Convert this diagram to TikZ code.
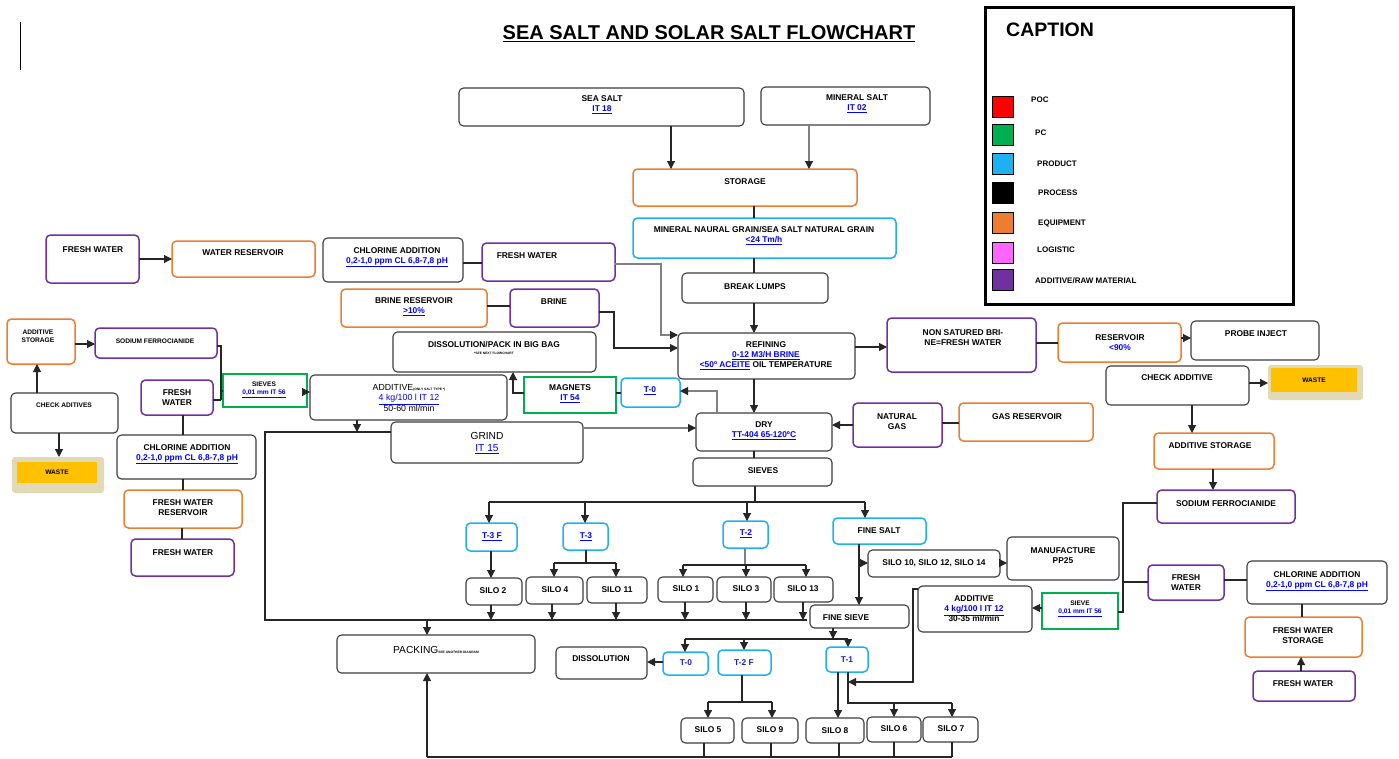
\documentclass[tikz,border=0pt]{standalone}
\usepackage{fontspec}
\setmainfont{Liberation Sans}
\usetikzlibrary{arrows.meta}
\definecolor{cpurple}{HTML}{7030A0}
\definecolor{corange}{HTML}{ED7D31}
\definecolor{cblue}{HTML}{1EB1F0}
\definecolor{cgreen}{HTML}{00B050}
\definecolor{cred}{HTML}{FF0000}
\definecolor{cpink}{HTML}{FF66FF}
\definecolor{lblue}{HTML}{0000FF}
\definecolor{dblue}{HTML}{2020C0}
\definecolor{boxgray}{HTML}{3C3C3C}
\definecolor{wyellow}{HTML}{FFC000}
\definecolor{wshadow}{HTML}{E2D9B6}
\newcommand\fA{\fontsize{8.4}{10}\selectfont\bfseries}
\newcommand\fS{\fontsize{6.6}{8}\selectfont\bfseries}
\newcommand\fR{\fontsize{8.8}{10.5}\selectfont}
\newcommand\fG{\fontsize{10.2}{12}\selectfont}
\newcommand\fT{\fontsize{3.3}{4}\selectfont\bfseries}
\newcommand\lk[1]{\textcolor{lblue}{\underline{#1}}}
\newcommand\bx[6]{\node[#2,minimum width={(#5)-(#3)},minimum height={(#6)-(#4)}] (#1) at ({((#3)+(#5))/2},{((#4)+(#6))/2}) {};}
\tikzset{
  bxk/.style={draw=boxgray,line width=1.1pt,rounded corners=4.5pt,inner sep=0pt,outer sep=0pt},
  bxp/.style={bxk,draw=cpurple,line width=1.5pt},
  bxo/.style={bxk,draw=corange,line width=1.5pt},
  bxb/.style={bxk,draw=cblue,line width=1.5pt},
  bxg/.style={draw=cgreen,line width=2pt,inner sep=0pt,outer sep=0pt},
  wsh/.style={fill=wshadow,rounded corners=3pt,inner sep=0pt,outer sep=0pt},
  wys/.style={fill=wyellow,inner sep=0pt,outer sep=0pt},
  tx/.style={inner sep=0pt,align=center,font=\fA},
  lg/.style={draw=black,line width=1pt,inner sep=0pt,minimum size=21pt},
  con/.style={draw=black!85,line width=1.1pt},
  gcon/.style={draw=black!50,line width=1.1pt},
  arr/.style={con,-{Triangle[length=8pt,width=8pt]}},
  garr/.style={gcon,-{Triangle[length=8pt,width=8pt,color=black!85]}}
}
\begin{document}
\begin{tikzpicture}[x=1pt,y=-1pt]
\useasboundingbox (0,0) rectangle (1399,758);
\fill[white] (0,0) rectangle (1399,758);
\draw[line width=1pt] (20,22) -- (20,70);
\node[tx,font=\fontsize{20}{24}\selectfont\bfseries] (title) at (709,34) {\underline{SEA SALT AND SOLAR SALT FLOWCHART}};

% ---------- caption ----------
\node[draw=black,line width=3pt,minimum width=308,minimum height=297,inner sep=0] (capbox) at (1139,155.5) {};
\node[tx,font=\fontsize{19.5}{24}\selectfont\bfseries,anchor=west] (captitle) at (1006,30) {CAPTION};
\node[lg,fill=cred] (lg1) at (1002.5,106.5) {};
\node[lg,fill=cgreen] (lg2) at (1002.5,134.5) {};
\node[lg,fill=cblue] (lg3) at (1002.5,163.5) {};
\node[lg,fill=black] (lg4) at (1002.5,193) {};
\node[lg,fill=corange] (lg5) at (1002.5,223) {};
\node[lg,fill=cpink] (lg6) at (1002.5,253) {};
\node[lg,fill=cpurple] (lg7) at (1002.5,280) {};
\node[tx,anchor=west,font=\fontsize{8}{9}\selectfont\bfseries] (lg1t) at (1031,100) {POC};
\node[tx,anchor=west,font=\fontsize{8}{9}\selectfont\bfseries] (lg2t) at (1035,133) {PC};
\node[tx,anchor=west,font=\fontsize{8}{9}\selectfont\bfseries] (lg3t) at (1037,164) {PRODUCT};
\node[tx,anchor=west,font=\fontsize{8}{9}\selectfont\bfseries] (lg4t) at (1038,193) {PROCESS};
\node[tx,anchor=west,font=\fontsize{8}{9}\selectfont\bfseries] (lg5t) at (1038,223) {EQUIPMENT};
\node[tx,anchor=west,font=\fontsize{8}{9}\selectfont\bfseries] (lg6t) at (1037,250) {LOGISTIC};
\node[tx,anchor=west,font=\fontsize{8}{9}\selectfont\bfseries] (lg7t) at (1035,281) {ADDITIVE/RAW MATERIAL};

% ---------- central column ----------
\bx{seasalt}{bxk}{459}{88}{744}{126}
\node[tx] (seasalt-t) at (602,105) {SEA SALT\\\lk{IT 18}};
\bx{minsalt}{bxk}{761}{87}{930}{125}
\node[tx] (minsalt-t) at (857,104) {MINERAL SALT\\\lk{IT 02}};
\bx{storage}{bxo}{633}{169}{857}{206}
\node[tx] (storage-t) at (745,182) {STORAGE};
\bx{mngrain}{bxb}{633}{218}{896}{258}
\node[tx] (mngrain-t) at (764,236) {MINERAL NAURAL GRAIN/SEA SALT NATURAL GRAIN\\\lk{<24 Tm/h}};
\bx{breaklumps}{bxk}{682}{273}{828}{303}
\node[tx] (breaklumps-t) at (755,287) {BREAK LUMPS};
\bx{refining}{bxk}{678}{333}{855}{379}
\node[tx] (refining-t) at (766,356) {REFINING\\\lk{0-12 M3/H BRINE}\\\lk{<50º ACEITE} OIL TEMPERATURE};
\bx{dry}{bxk}{696}{413}{832}{451}
\node[tx] (dry-t) at (764,431) {DRY\\\lk{TT-404 65-120ºC}};
\bx{sieves}{bxk}{693}{458}{832}{486}
\node[tx] (sieves-t) at (763,471) {SIEVES};

% ---------- right part ----------
\bx{nonsat}{bxp}{887}{318}{1036}{372}
\node[tx] (nonsat-t) at (963,338) {NON SATURED BRI-\\NE=FRESH WATER};
\bx{reservoir}{bxo}{1058}{323}{1181}{362}
\node[tx] (reservoir-t) at (1120,343) {RESERVOIR\\\textcolor{lblue}{<90\%}};
\bx{probe}{bxk}{1191}{321}{1319}{360}
\node[tx] (probe-t) at (1256,334) {PROBE INJECT};
\bx{checkadd}{bxk}{1106}{366}{1249}{405}
\node[tx] (checkadd-t) at (1177,378) {CHECK ADDITIVE};
\bx{wasteRs}{wsh}{1268}{365}{1363}{400}
\bx{wasteR}{wys}{1271}{368}{1357}{392}
\node[tx,font=\fS] (wasteR-t) at (1314,380) {WASTE};
\bx{addstorR}{bxo}{1154}{433}{1274}{469}
\node[tx] (addstorR-t) at (1210,446) {ADDITIVE STORAGE};
\bx{sodiumR}{bxp}{1157}{490}{1295}{523}
\node[tx] (sodiumR-t) at (1226,504) {SODIUM FERROCIANIDE};
\bx{fwR}{bxp}{1148}{565}{1224}{600}
\node[tx] (fwR-t) at (1186,583) {FRESH\\WATER};
\bx{chlR}{bxk}{1247}{561}{1387}{604}
\node[tx] (chlR-t) at (1317,581) {CHLORINE ADDITION\\\lk{0,2-1,0 ppm CL 6,8-7,8 pH}};
\bx{fwsR}{bxo}{1245}{617}{1362}{657}
\node[tx] (fwsR-t) at (1303,636) {FRESH WATER\\STORAGE};
\bx{fwbR}{bxp}{1253}{671}{1355}{701}
\node[tx] (fwbR-t) at (1303,684) {FRESH WATER};
\bx{sieveR}{bxg}{1042}{593}{1118}{629}
\node[tx,font=\fS] (sieveR-t) at (1080,609) {SIEVE\\\lk{0,01 mm IT 56}};
\bx{addR}{bxk}{918}{586}{1032}{632}
\node[tx] (addR-t) at (974,609) {ADDITIVE\\\lk{4 kg/100 l IT 12}\\30-35 ml/min};
\bx{manuf}{bxk}{1007}{537}{1119}{580}
\node[tx] (manuf-t) at (1063,556) {MANUFACTURE\\PP25};
\bx{silo10}{bxk}{868}{550}{1000}{577}
\node[tx] (silo10-t) at (934,563) {SILO 10, SILO 12, SILO 14};
\bx{finesalt}{bxb}{833}{518}{926}{544}
\node[tx] (finesalt-t) at (879,531) {FINE SALT};
\bx{natgas}{bxp}{853}{403}{942}{447}
\node[tx] (natgas-t) at (897,422) {NATURAL\\GAS};
\bx{gasres}{bxo}{959}{403}{1093}{441}
\node[tx] (gasres-t) at (1027,417) {GAS RESERVOIR};

% ---------- left part ----------
\bx{fwTL}{bxp}{46}{235}{139}{283}
\node[tx] (fwTL-t) at (93,250) {FRESH WATER};
\bx{wres}{bxo}{172}{241}{315}{277}
\node[tx] (wres-t) at (243,253) {WATER RESERVOIR};
\bx{chlM}{bxk}{323}{238}{463}{282}
\node[tx] (chlM-t) at (397,257) {CHLORINE ADDITION\\\lk{0,2-1,0 ppm CL 6,8-7,8 pH}};
\bx{fwM}{bxp}{482}{243}{615}{281}
\node[tx] (fwM-t) at (527,256) {FRESH WATER};
\bx{brres}{bxo}{341}{289}{487}{327}
\node[tx] (brres-t) at (414,307) {BRINE RESERVOIR\\\lk{>10\%}};
\bx{brine}{bxp}{510}{289}{599}{327}
\node[tx] (brine-t) at (554,302) {BRINE};
\bx{dissolpack}{bxk}{393}{332}{596}{372}
\node[tx] (dissolpack-t) at (494,348) {DISSOLUTION/PACK IN BIG BAG\\[-3pt]{\fT *SEE NEXT FLOWCHART}};
\bx{magnets}{bxg}{524}{377}{616}{413}
\node[tx] (magnets-t) at (570,394) {MAGNETS\\\lk{IT 54}};
\bx{t0top}{bxb}{621}{378}{680}{407}
\node[tx] (t0top-t) at (650,391) {\lk{T-0}};
\bx{addL}{bxk}{310}{375}{507}{420}
\node[tx,font=\fR] (addL-t) at (409,398) {ADDITIVE{\fT(ONLY SALT TYPE *)}\\\lk{4 kg/100 l IT 12}\\50-60 ml/min};
\bx{grind}{bxk}{391}{422}{583}{463}
\node[tx,font=\fG] (grind-t) at (487,443) {GRIND\\\lk{IT 15}};
\bx{sievesL}{bxg}{223}{374}{307}{407}
\node[tx,font=\fS] (sievesL-t) at (264,390) {SIEVES\\\lk{0,01 mm IT 56}};
\bx{sodiumL}{bxp}{95}{328}{217}{358}
\node[tx,font=\fS] (sodiumL-t) at (155,341) {SODIUM FERROCIANIDE};
\bx{addstorL}{bxo}{7}{319}{75}{364}
\node[tx,font=\fS] (addstorL-t) at (38,336) {ADDITIVE\\STORAGE};
\bx{checkL}{bxk}{11}{393}{118}{433}
\node[tx,font=\fS] (checkL-t) at (64,405) {CHECK ADITIVES};
\bx{wasteLs}{wsh}{12}{457}{104}{493}
\bx{wasteL}{wys}{17}{462}{97}{483}
\node[tx,font=\fS] (wasteL-t) at (57,472) {WASTE};
\bx{fwL}{bxp}{141}{380}{213}{415}
\node[tx] (fwL-t) at (177,398) {FRESH\\WATER};
\bx{chlL}{bxk}{117}{435}{256}{479}
\node[tx] (chlL-t) at (187,454) {CHLORINE ADDITION\\\lk{0,2-1,0 ppm CL 6,8-7,8 pH}};
\bx{fwresL}{bxo}{124}{490}{242}{528}
\node[tx] (fwresL-t) at (183,508) {FRESH WATER\\RESERVOIR};
\bx{fwbL}{bxp}{131}{539}{234}{576}
\node[tx] (fwbL-t) at (183,553) {FRESH WATER};

% ---------- bottom ----------
\bx{t3f}{bxb}{466}{523}{517}{551}
\node[tx] (t3f-t) at (492,537) {\lk{T-3 F}};
\bx{t3}{bxb}{563}{523}{608}{550}
\node[tx] (t3-t) at (586,537) {\lk{T-3}};
\bx{t2}{bxb}{723}{521}{768}{548}
\node[tx] (t2-t) at (746,534) {\lk{T-2}};
\bx{silo2}{bxk}{466}{578}{522}{605}
\node[tx] (silo2-t) at (493,591) {SILO 2};
\bx{silo4}{bxk}{526}{577}{583}{604}
\node[tx] (silo4-t) at (555,590) {SILO 4};
\bx{silo11}{bxk}{587}{577}{647}{603}
\node[tx] (silo11-t) at (617,590) {SILO 11};
\bx{silo1}{bxk}{658}{577}{713}{602}
\node[tx] (silo1-t) at (686,589) {SILO 1};
\bx{silo3}{bxk}{717}{577}{771}{602}
\node[tx] (silo3-t) at (746,589) {SILO 3};
\bx{silo13}{bxk}{774}{577}{833}{602}
\node[tx] (silo13-t) at (803,589) {SILO 13};
\bx{finesieve}{bxk}{810}{605}{909}{628}
\node[tx] (finesieve-t) at (846,618) {FINE SIEVE};
\bx{packing}{bxk}{337}{635}{535}{673}
\node[tx,font=\fG] (packing-t) at (436,650) {PACKING{\fT SEE ANOTHER DIAGRAM}};
\bx{dissol}{bxk}{556}{647}{647}{679}
\node[tx] (dissol-t) at (601,659) {DISSOLUTION};
\bx{t0b}{bxb}{663}{652}{708}{675}
\node[tx] (t0b-t) at (686,663) {\textcolor{dblue}{T-0}};
\bx{t2f}{bxb}{718}{650}{771}{675}
\node[tx] (t2f-t) at (744,663) {\textcolor{dblue}{T-2 F}};
\bx{t1}{bxb}{826}{647}{868}{672}
\node[tx] (t1-t) at (847,660) {\textcolor{dblue}{T-1}};
\bx{silo5}{bxk}{681}{718}{734}{743}
\node[tx] (silo5-t) at (708,730) {SILO 5};
\bx{silo9}{bxk}{742}{718}{798}{743}
\node[tx] (silo9-t) at (770,730) {SILO 9};
\bx{silo8}{bxk}{806}{718}{864}{743}
\node[tx] (silo8-t) at (835,731) {SILO 8};
\bx{silo6}{bxk}{867}{717}{921}{742}
\node[tx] (silo6-t) at (894,729) {SILO 6};
\bx{silo7}{bxk}{923}{717}{978}{742}
\node[tx] (silo7-t) at (951,729) {SILO 7};

% ---------- connectors: central ----------
\draw[arr] (671,0 |- seasalt.south) -- (671,0 |- storage.north);
\draw[garr] (809,0 |- minsalt.south) -- (809,0 |- storage.north);
\draw[con] (754,0 |- storage.south) -- (754,0 |- mngrain.north);
\draw[con] (754,0 |- mngrain.south) -- (754,0 |- breaklumps.north);
\draw[arr] (754,0 |- breaklumps.south) -- (754,0 |- refining.north);
\draw[arr] (754,0 |- refining.south) -- (754,0 |- dry.north);
\draw[con] (754,0 |- dry.south) -- (754,0 |- sieves.north);
\draw[garr] (fwM.east |- 0,264) -- (661,264) -- (661,335) -- (refining.west |- 0,335);
\draw[arr] (brine.east |- 0,312) -- (614,312) -- (614,348) -- (refining.west |- 0,348);
\draw[con] (chlM.east |- 0,263) -- (fwM.west |- 0,263);
\draw[con] (brres.east |- 0,306) -- (brine.west |- 0,306);
\draw[arr] (refining.east |- 0,347) -- (nonsat.west |- 0,347);
\draw[con] (nonsat.east |- 0,343) -- (reservoir.west |- 0,343);
\draw[arr] (reservoir.east |- 0,338) -- (probe.west |- 0,338);
\draw[arr] (checkadd.east |- 0,383) -- (wasteRs.west |- 0,383);
\draw[arr] (1192,0 |- checkadd.south) -- (1192,0 |- addstorR.north);
\draw[arr] (1213,0 |- addstorR.south) -- (1213,0 |- sodiumR.north);
\draw[con] (sodiumR.west |- 0,503) -- (1123,503) -- (1123,612) -- (sieveR.east |- 0,612);
\draw[con] (fwR.west |- 0,582) -- (1123,582);
\draw[con] (fwR.east |- 0,580) -- (chlR.west |- 0,580);
\draw[con] (1302,0 |- chlR.south) -- (1302,0 |- fwsR.north);
\draw[arr] (1301,0 |- fwbR.north) -- (1301,0 |- fwsR.south);
\draw[arr] (sieveR.west |- 0,608) -- (addR.east |- 0,608);
\draw[arr] (addR.west |- 0,589) -- (913,589) -- (913,682) -- (848,682);
\draw[arr] (natgas.west |- 0,425) -- (dry.east |- 0,425);
\draw[con] (natgas.east |- 0,423) -- (gasres.west |- 0,423);
\draw[garr] (717,0 |- dry.north) -- (717,391) -- (t0top.east |- 0,391);
\draw[con] (magnets.east |- 0,393) -- (t0top.west |- 0,393);
\draw[arr] (magnets.west |- 0,393) -- (513,393) -- (513,0 |- dissolpack.south);

% ---------- connectors: left ----------
\draw[arr] (fwTL.east |- 0,259) -- (wres.west |- 0,259);
\draw[arr] (addstorL.east |- 0,344) -- (sodiumL.west |- 0,344);
\draw[arr] (37,0 |- checkL.north) -- (37,0 |- addstorL.south);
\draw[arr] (59,0 |- checkL.south) -- (59,0 |- wasteLs.north);
\draw[con] (sodiumL.east |- 0,346) -- (221,346) -- (221,400);
\draw[con] (fwL.east |- 0,400) -- (221,400);
\draw[con] (221,391) -- (sievesL.west |- 0,391);
\draw[arr] (sievesL.east |- 0,392) -- (addL.west |- 0,392);
\draw[con] (183,0 |- fwL.south) -- (183,0 |- chlL.north);
\draw[con] (183,0 |- chlL.south) -- (183,0 |- fwresL.north);
\draw[con] (182,0 |- fwresL.south) -- (182,0 |- fwbL.north);
\draw[arr] (357,0 |- addL.south) -- (357,432);
\draw[con] (grind.west |- 0,432) -- (265,432) -- (265,620) -- (807,620);
\draw[garr] (grind.east |- 0,428) -- (dry.west |- 0,428);

% ---------- connectors: sieves tree ----------
\draw[con] (755,0 |- sieves.south) -- (755,502);
\draw[con] (489,502) -- (865,502);
\draw[arr] (489,502) -- (489,0 |- t3f.north);
\draw[arr] (585,502) -- (585,0 |- t3.north);
\draw[arr] (747,502) -- (747,0 |- t2.north);
\draw[arr] (865,502) -- (865,0 |- finesalt.north);
\draw[arr] (491,0 |- t3f.south) -- (491,0 |- silo2.north);
\draw[con] (586,0 |- t3.south) -- (586,563);
\draw[con] (554,563) -- (616,563);
\draw[arr] (554,563) -- (554,0 |- silo4.north);
\draw[arr] (616,563) -- (616,0 |- silo11.north);
\draw[gcon] (745,0 |- t2.south) -- (745,565);
\draw[con] (683,565) -- (806,565);
\draw[arr] (683,565) -- (683,0 |- silo1.north);
\draw[arr] (746,565) -- (746,0 |- silo3.north);
\draw[arr] (806,565) -- (806,0 |- silo13.north);
\draw[arr] (491,0 |- silo2.south) -- (491,620);
\draw[arr] (552,0 |- silo4.south) -- (552,620);
\draw[arr] (616,0 |- silo11.south) -- (616,620);
\draw[arr] (685,0 |- silo1.south) -- (685,620);
\draw[arr] (746,0 |- silo3.south) -- (746,620);
\draw[arr] (803,0 |- silo13.south) -- (803,620);
\draw[arr] (427,620) -- (427,0 |- packing.north);
\draw[arr] (427,757) -- (427,0 |- packing.south);
\draw[con] (427,757) -- (952,757);
\draw[arr] (859,0 |- finesalt.south) -- (859,0 |- finesieve.north);
\draw[arr] (859,563) -- (silo10.west |- 0,563);
\draw[arr] (silo10.east |- 0,563) -- (manuf.west |- 0,563);
\draw[arr] (833,0 |- finesieve.south) -- (833,639);
\draw[con] (685,639) -- (848,639);
\draw[arr] (685,639) -- (685,0 |- t0b.north);
\draw[arr] (744,639) -- (744,0 |- t2f.north);
\draw[arr] (848,639) -- (848,0 |- t1.north);
\draw[arr] (t0b.west |- 0,662) -- (dissol.east |- 0,662);
\draw[con] (742,0 |- t2f.south) -- (742,702);
\draw[con] (708,702) -- (772,702);
\draw[arr] (708,702) -- (708,0 |- silo5.north);
\draw[arr] (772,702) -- (772,0 |- silo9.north);
\draw[arr] (838,0 |- t1.south) -- (838,0 |- silo8.north);
\draw[con] (848,0 |- t1.south) -- (848,703) -- (952,703);
\draw[arr] (894,703) -- (894,0 |- silo6.north);
\draw[arr] (952,703) -- (952,0 |- silo7.north);
\draw[con] (704,0 |- silo5.south) -- (704,757);
\draw[con] (771,0 |- silo9.south) -- (771,757);
\draw[con] (839,0 |- silo8.south) -- (839,757);
\draw[con] (894,0 |- silo6.south) -- (894,757);
\draw[con] (952,0 |- silo7.south) -- (952,757);
\end{tikzpicture}
\end{document}
